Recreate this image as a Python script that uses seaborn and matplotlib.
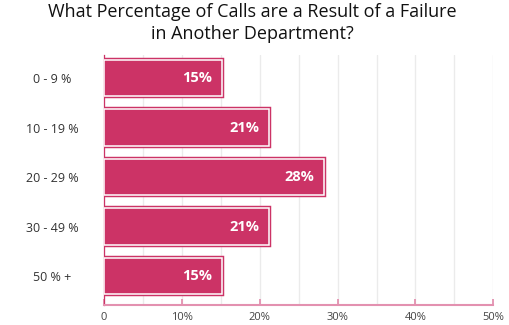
import matplotlib
matplotlib.use("Agg")
import matplotlib.pyplot as plt
import matplotlib.patheffects as pe
import seaborn as sns
import pandas as pd
import numpy as np

categories = ["0 - 9 %", "10 - 19 %", "20 - 29 %", "30 - 49 %", "50 % +"]
values = [15.2, 21.2, 28.3, 21.2, 15.2]
xticks = [0, 10, 20, 30, 40, 50]
xtick_labels = ["0", "10%", "20%", "30%", "40%", "50%"]
title = "What Percentage of Calls are a Result of a Failure\nin Another Department?"

BAR = "#cc3366"
AXIS = "#e391b0"

sns.set_theme(style="white")
plt.rcParams["font.family"] = ["Open Sans", "DejaVu Sans"]

df = pd.DataFrame({"cat": categories, "val": values})

fig = plt.figure(figsize=(5.1, 3.25), dpi=100)
ax = fig.add_axes([104 / 510, 1 - 305 / 325, (493.3 - 104) / 510, (305 - 55) / 325])

sns.barplot(data=df, x="val", y="cat", orient="h", color=BAR, saturation=1,
            width=0.745, ax=ax, edgecolor="white", linewidth=1.1, zorder=3)

for p in ax.patches:
    p.set_path_effects([pe.Stroke(linewidth=3.2, foreground=BAR), pe.Normal()])

for p, v in zip(ax.patches, values):
    ax.text(p.get_x() + p.get_width() - 1.3, p.get_y() + p.get_height() / 2,
            f"{v:.0f}%", ha="right", va="center", color="white",
            fontsize=10.5, fontweight="bold", zorder=5)

ax.set_xlim(0, 50)
ax.set_ylim(4.586, -0.465)
ax.set_xticks(xticks)
ax.set_xticklabels(xtick_labels)
ax.set_xticks(np.arange(5, 50, 10), minor=True)
ax.grid(axis="x", which="both", color="#ebebeb", linewidth=1, zorder=0)
ax.set_axisbelow(True)
ax.set_xlabel("")
ax.set_ylabel("")

for s in ["top", "right"]:
    ax.spines[s].set_visible(False)
ax.spines["left"].set_color(BAR)
ax.spines["left"].set_linewidth(0.9)
ax.spines["bottom"].set_color(AXIS)
ax.spines["bottom"].set_linewidth(1.5)

ax.tick_params(axis="x", which="major", bottom=True, direction="in", length=4.5, width=1.3,
               color=AXIS, labelsize=8, labelcolor="#444444", pad=5)
ax.tick_params(axis="x", which="minor", bottom=False, length=0)
ax.tick_params(axis="y", left=False, length=0, labelsize=9, labelcolor="#333333", pad=37)
for lbl in ax.get_yticklabels():
    lbl.set_ha("center")

fig.text(0.495, 0.99, title, ha="center", va="top", fontsize=13,
         color="#111111", linespacing=1.25)

fig.savefig("out.png", dpi=100)
